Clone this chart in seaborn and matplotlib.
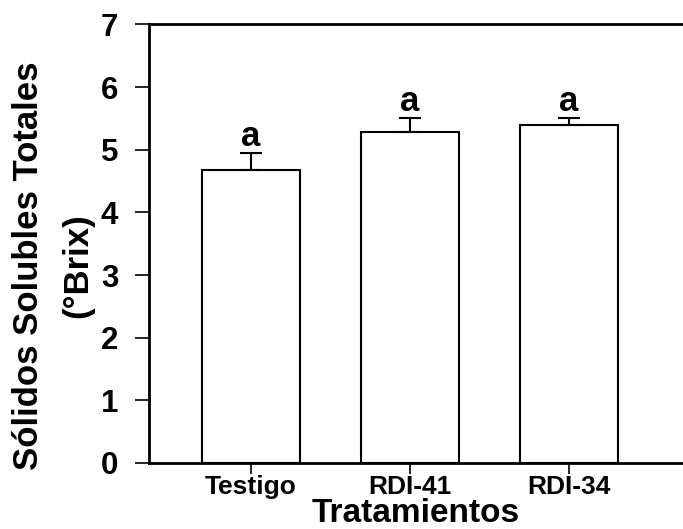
import matplotlib
matplotlib.use("Agg")
import matplotlib.pyplot as plt
import seaborn as sns
import pandas as pd

# Total soluble solids by irrigation treatment
treatments = ["Testigo", "RDI-41", "RDI-34"]
means = [4.67, 5.28, 5.39]
errors = [0.28, 0.22, 0.12]
letters = ["a", "a", "a"]

sns.set_theme(style="white")
plt.rcParams["font.family"] = ["Liberation Sans", "DejaVu Sans"]
plt.rcParams["font.weight"] = "bold"
plt.rcParams["text.color"] = "black"
plt.rcParams["axes.labelcolor"] = "black"
plt.rcParams["xtick.color"] = "black"
plt.rcParams["ytick.color"] = "black"

df = pd.DataFrame({"Tratamiento": treatments, "Brix": means})

fig = plt.figure(figsize=(6.83, 5.29), dpi=100)
ax = fig.add_axes([0.218, 0.1248, 0.782, 0.829])

sns.barplot(data=df, x="Tratamiento", y="Brix", order=treatments,
            color="white", edgecolor="black", linewidth=1.5,
            width=0.62, errorbar=None, ax=ax)
for p in ax.patches:
    p.set_facecolor("white")

# one-sided (upper) error bars
ax.errorbar(range(len(treatments)), means,
            yerr=[[0] * len(errors), errors],
            fmt="none", ecolor="black", elinewidth=1.5,
            capsize=8, capthick=1.5, zorder=3)

for i, (m, e, t) in enumerate(zip(means, errors, letters)):
    ax.annotate(t, xy=(i, m + e), xytext=(0, 5), textcoords="offset points",
                ha="center", va="baseline", fontsize=25, fontweight="bold",
                color="black")

ax.set_xlim(-0.642, 2.717)
ax.set_ylim(0, 7)
ax.set_yticks(range(0, 8))

for side in ["left", "bottom", "top"]:
    ax.spines[side].set_visible(True)
    ax.spines[side].set_color("black")
    ax.spines[side].set_linewidth(2)
ax.spines["right"].set_visible(False)

ax.tick_params(axis="y", direction="out", length=10, width=1.2,
               labelsize=22.5, pad=12, left=True, color="black",
               labelcolor="black")
ax.tick_params(axis="x", direction="out", length=8, width=1.2,
               labelsize=19, pad=1, bottom=True, color="black",
               labelcolor="black")
for lbl in ax.get_xticklabels() + ax.get_yticklabels():
    lbl.set_fontweight("bold")

ax.set_xlabel("Tratamientos", fontsize=24, fontweight="bold", labelpad=-1,
              color="black")
ax.set_ylabel("Sólidos Solubles Totales\n(°Brix)", fontsize=25,
              fontweight="bold", linespacing=1.6, color="black")
ax.yaxis.set_label_coords(-0.103, 0.45)

fig.savefig("out.png", dpi=100)
